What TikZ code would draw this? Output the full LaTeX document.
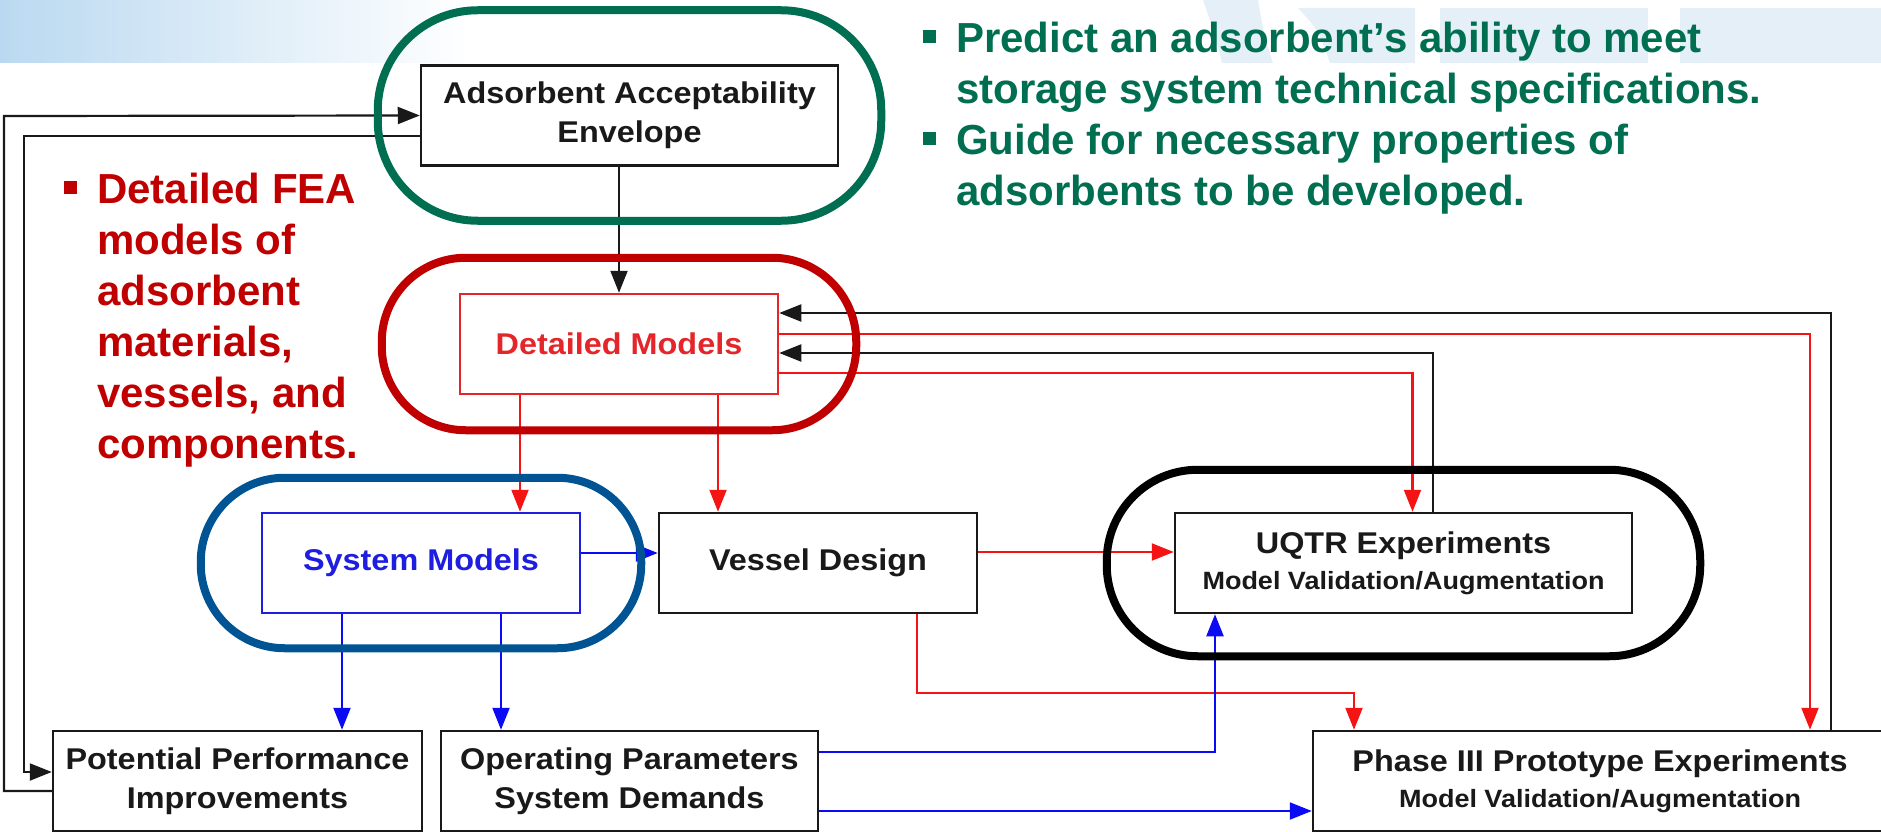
\documentclass[tikz,border=0pt]{standalone}
\usepackage{fontspec}
\setmainfont{Liberation Sans}
\newfontfamily\boxfont[FakeStretch=1.08]{Liberation Sans}
\usepackage{xcolor}
\definecolor{envgreen}{RGB}{0,110,80}
\definecolor{feared}{RGB}{192,0,0}
\definecolor{sysblue}{RGB}{0,84,147}
\definecolor{linkred}{RGB}{245,20,20}
\definecolor{linkblue}{RGB}{10,10,245}
\definecolor{dmred}{RGB}{228,38,42}
\definecolor{smblue}{RGB}{30,30,225}
\definecolor{boxblack}{RGB}{25,25,25}
\definecolor{sky}{RGB}{186,217,240}
\definecolor{paleblue}{RGB}{228,239,247}
\usepackage{tikz}
\usetikzlibrary{arrows.meta,fit,calc}

\newcommand\bul{\llap{\raisebox{9pt}{\rule{13pt}{13pt}}\hspace{20pt}}}

\begin{document}
\begin{tikzpicture}[x=1pt,y=-1pt,
  box/.style={draw=boxblack,line width=2.5pt,fill=white,minimum height=100pt,
    inner sep=0pt,align=center,text=boxblack,
    font=\boxfont\bfseries\fontsize{30}{39}\selectfont},
  ring/.style={draw=#1,line width=8pt,inner sep=0pt},
  wire/.style={line width=2.2pt,draw=#1},
  link/.style={wire=#1,-{Triangle[length=22pt,width=17pt]}},
  bullets/.style={anchor=base west,align=left,inner sep=0pt,text=#1,
    font=\bfseries\fontsize{42}{51}\selectfont}]
  \useasboundingbox (0,0) rectangle (1881,832);
  \clip (0,0) rectangle (1881,832);

  % slide background
  \shade[left color=sky,right color=white] (0,0) rectangle (470,63);
  \fill[paleblue] (1203,0) .. controls (1215,35) .. (1222,63) -- (1273,63)
    .. controls (1264,35) .. (1258,0) -- cycle;
  \fill[paleblue] (1298,8) .. controls (1318,30) .. (1330,63) -- (1415,63) -- (1415,8) -- cycle;
  \fill[paleblue] (1440,8) rectangle (1648,63);
  \fill[paleblue] (1680,8) rectangle (1881,63);

  \node[box,minimum width=417pt] (adsorb) at (629.5,115.5)
    {Adsorbent Acceptability\\Envelope};
  \node[box,minimum width=318pt,draw=dmred,text=dmred] (detailed) at (619,344)
    {Detailed Models};
  \node[box,minimum width=318pt,draw=smblue,text=smblue] (sysmod) at (421,563)
    {System Models};
  \node[box,minimum width=318pt] (vessel) at (818,563) {Vessel Design};
  \node[box,minimum width=457pt] (uqtr) at (1403.5,563)
    {UQTR Experiments\\[-3pt]{\fontsize{25}{30}\selectfont Model Validation/Augmentation}};
  \node[box,minimum width=369pt] (potential) at (237.5,781)
    {Potential Performance\\Improvements};
  \node[box,minimum width=377pt] (operating) at (629.5,781)
    {Operating Parameters\\System Demands};
  \node[box,minimum width=574pt] (phase) at (1600,781)
    {Phase III Prototype Experiments\\[-3pt]{\fontsize{25}{30}\selectfont Model Validation/Augmentation}};

  % feedback to the envelope
  \draw[link=boxblack] ([yshift=-10pt]potential.west) -| (4,116) -- (adsorb.west);
  \draw[link=boxblack] ([yshift=-20.5pt]adsorb.west) -| (24,772) -- ([yshift=9pt]potential.west);
  \draw[link=boxblack] (detailed.north |- adsorb.south) -- (detailed.north);

  % detailed models loop
  \draw[link=boxblack] ([xshift=231pt]phase.north) |- ([yshift=31pt]detailed.east);
  \draw[link=linkred] ([yshift=10pt]detailed.east) -| ([xshift=210pt]phase.north);
  \draw[link=boxblack] ([xshift=29.5pt]uqtr.north) |- ([yshift=-9pt]detailed.east);
  \draw[link=linkred] ([yshift=-29pt]detailed.east) -| ([xshift=9pt]uqtr.north);
  \draw[link=linkred] ([xshift=-99pt]detailed.south) -- ([xshift=-99pt]detailed.south |- sysmod.north);
  \draw[link=linkred] ([xshift=99pt]detailed.south) -- ([xshift=99pt]detailed.south |- vessel.north);

  \draw[link=linkblue] ([yshift=10pt]sysmod.east) -- ([yshift=10pt]vessel.west);
  \draw[link=linkblue] ([xshift=-79pt]sysmod.south) -- ([xshift=-79pt]sysmod.south |- potential.north);
  \draw[link=linkblue] ([xshift=80pt]sysmod.south) -- ([xshift=80pt]sysmod.south |- operating.north);
  \draw[link=linkred] ([yshift=11pt]vessel.east) -- ([yshift=11pt]uqtr.west);
  \draw[link=linkred] ([xshift=99pt]vessel.south) -- ++(0,79) -| ([xshift=-246pt]phase.north);
  \draw[link=linkblue] ([yshift=29pt]operating.east) -| ([xshift=-188.5pt]uqtr.south);
  \draw[link=linkblue] ([yshift=-30pt]operating.east) -- ([yshift=-30pt]phase.west);

  % groupings
  \node[ring=envgreen,fit=(adsorb),inner xsep=42pt,inner ysep=54pt,rounded corners=100pt] (envring) {};
  \node[ring=feared,fit=(detailed),inner xsep=77pt,inner ysep=35pt,rounded corners=84pt] (fearing) {};
  \node[ring=sysblue,fit=(sysmod),inner xsep=60pt,inner ysep=34pt,rounded corners=84pt] (sysring) {};
  \node[ring=black,fit=(uqtr),inner xsep=67pt,inner ysep=42pt,rounded corners=91pt] (expring) {};

  % anchored at the baseline of the last line
  \node[bullets=feared] (featext) at (97,458)
    {\bul Detailed FEA\\models of\\adsorbent\\materials,\\vessels, and\\components.};
  \node[bullets=envgreen] (envtext) at (956,205)
    {\bul Predict an adsorbent’s ability to meet\\storage system technical specifications.\\
     \bul Guide for necessary properties of\\adsorbents to be developed.};
\end{tikzpicture}
\end{document}
